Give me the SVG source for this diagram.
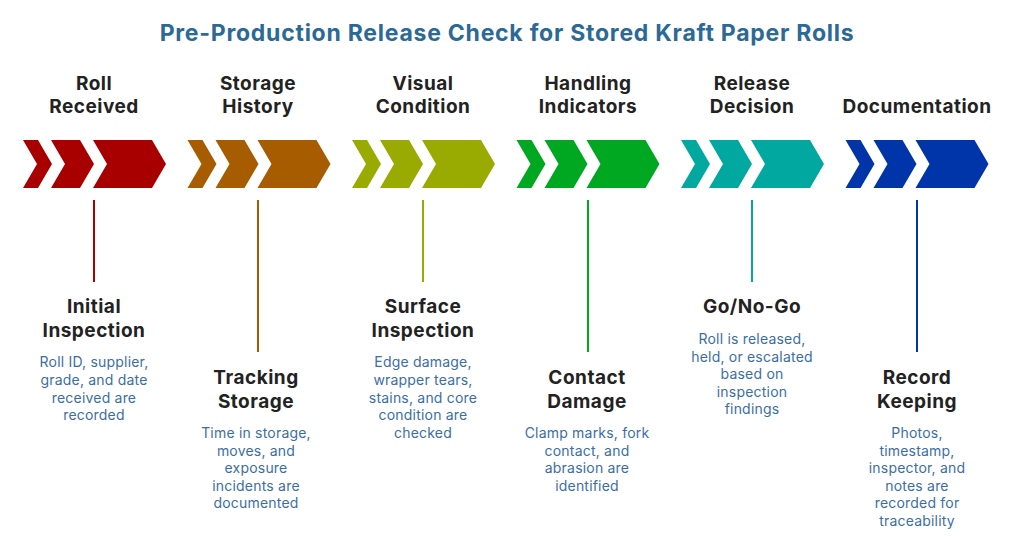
<svg xmlns="http://www.w3.org/2000/svg" width="1024" height="538" viewBox="0 0 1024 538">
<style>
text{font-family:Inter,"Open Sans",sans-serif;text-anchor:middle}
.t{font-size:23px;font-weight:700;fill:#2b6a96;letter-spacing:0.75px}
.h{font-size:19px;font-weight:700;fill:#222;letter-spacing:0.5px}
.s{font-size:19px;font-weight:700;fill:#222;letter-spacing:0.5px}
.d{font-size:14px;fill:#3b6ea6;letter-spacing:0.2px}
line{stroke-width:2}
</style>
<defs>
<g id="chev">
<polygon points="0,0 15,0 29,24 15,48 0,48 14,24"/>
<polygon points="28,0 57,0 71,24 57,48 28,48 42,24"/>
<polygon points="70,0 129,0 143,24 129,48 70,48 84,24"/>
</g>
</defs>
<rect width="1024" height="538" fill="#fff"/>
<text class="t" x="507" y="41">Pre-Production Release Check for Stored Kraft Paper Rolls</text>
<g id="connectors">
<line x1="94" y1="200" x2="94" y2="282" stroke="#a80000"/>
<line x1="258" y1="200" x2="258" y2="352" stroke="#a85c00"/>
<line x1="423" y1="200" x2="423" y2="282" stroke="#99aa00"/>
<line x1="588" y1="200" x2="588" y2="352" stroke="#00a822"/>
<line x1="752" y1="200" x2="752" y2="282" stroke="#00a8a0"/>
<line x1="917" y1="200" x2="917" y2="352" stroke="#0035aa"/>
</g>
<g id="n1"><use href="#chev" x="23" y="140" fill="#a80000"/>
<text class="h" x="94" y="90">Roll</text><text class="h" x="94" y="113">Received</text>
<text class="s" x="94" y="313">Initial</text><text class="s" x="94" y="337">Inspection</text>
<text class="d"><tspan x="94" y="367">Roll ID, supplier,</tspan><tspan x="94" y="385">grade, and date</tspan><tspan x="94" y="403">received are</tspan><tspan x="94" y="420">recorded</tspan></text></g>
<g id="n2"><use href="#chev" x="187.5" y="140" fill="#a85c00"/>
<text class="h" x="258" y="90">Storage</text><text class="h" x="258" y="113">History</text>
<text class="s" x="256" y="384">Tracking</text><text class="s" x="256" y="408">Storage</text>
<text class="d"><tspan x="256" y="438">Time in storage,</tspan><tspan x="256" y="456">moves, and</tspan><tspan x="256" y="473">exposure</tspan><tspan x="256" y="491">incidents are</tspan><tspan x="256" y="508">documented</tspan></text></g>
<g id="n3"><use href="#chev" x="352" y="140" fill="#99aa00"/>
<text class="h" x="423" y="90">Visual</text><text class="h" x="423" y="113">Condition</text>
<text class="s" x="423" y="313">Surface</text><text class="s" x="423" y="337">Inspection</text>
<text class="d"><tspan x="423" y="367">Edge damage,</tspan><tspan x="423" y="385">wrapper tears,</tspan><tspan x="423" y="403">stains, and core</tspan><tspan x="423" y="420">condition are</tspan><tspan x="423" y="438">checked</tspan></text></g>
<g id="n4"><use href="#chev" x="516.5" y="140" fill="#00a822"/>
<text class="h" x="588" y="90">Handling</text><text class="h" x="588" y="113">Indicators</text>
<text class="s" x="587" y="384">Contact</text><text class="s" x="587" y="408">Damage</text>
<text class="d"><tspan x="587" y="438">Clamp marks, fork</tspan><tspan x="587" y="456">contact, and</tspan><tspan x="587" y="473">abrasion are</tspan><tspan x="587" y="491">identified</tspan></text></g>
<g id="n5"><use href="#chev" x="681" y="140" fill="#00a8a0"/>
<text class="h" x="752" y="90">Release</text><text class="h" x="752" y="113">Decision</text>
<text class="s" x="752" y="313">Go/No-Go</text>
<text class="d"><tspan x="752" y="344">Roll is released,</tspan><tspan x="752" y="362">held, or escalated</tspan><tspan x="752" y="379">based on</tspan><tspan x="752" y="397">inspection</tspan><tspan x="752" y="414">findings</tspan></text></g>
<g id="n6"><use href="#chev" x="845.5" y="140" fill="#0035aa"/>
<text class="h" x="917" y="113">Documentation</text>
<text class="s" x="917" y="384">Record</text><text class="s" x="917" y="408">Keeping</text>
<text class="d"><tspan x="917" y="438">Photos,</tspan><tspan x="917" y="456">timestamp,</tspan><tspan x="917" y="473">inspector, and</tspan><tspan x="917" y="491">notes are</tspan><tspan x="917" y="508">recorded for</tspan><tspan x="917" y="526">traceability</tspan></text></g>
</svg>
